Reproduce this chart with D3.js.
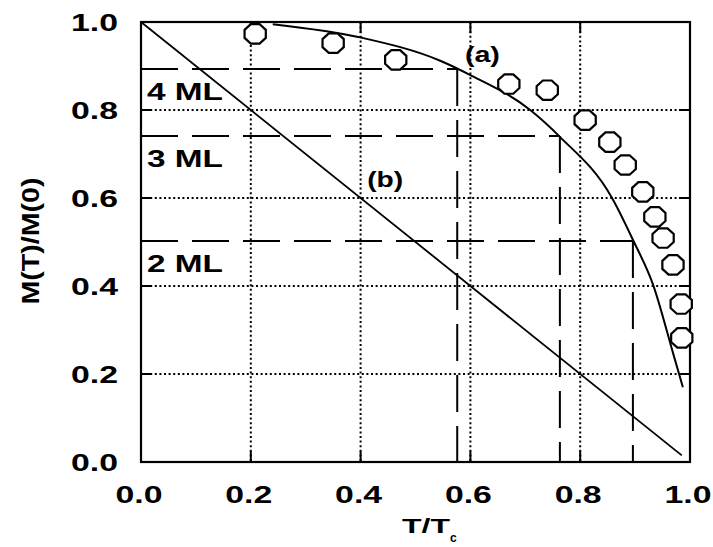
<!DOCTYPE html>
<html>
<head>
<meta charset="utf-8">
<script src="https://cdn.jsdelivr.net/npm/d3@7"></script>
<style>
  body { margin: 0; background: #fff; }
  text { font-family: "Liberation Sans", Arial, sans-serif; font-weight: bold; fill: #000; }
</style>
</head>
<body>
<svg id="chart" width="713" height="547"></svg>
<script>
// tick values
var xTicks = [0.0, 0.2, 0.4, 0.6, 0.8, 1.0];
var yTicks = [0.0, 0.2, 0.4, 0.6, 0.8, 1.0];

// measured points (octagons)
var pointsT = [0.208, 0.350, 0.464, 0.670, 0.740, 0.809, 0.854, 0.882, 0.914, 0.936, 0.951, 0.969, 0.984, 0.985];
var pointsM = [0.973, 0.952, 0.914, 0.859, 0.845, 0.777, 0.727, 0.675, 0.614, 0.557, 0.509, 0.448, 0.359, 0.282];

// curve (a)
var curveAT = [0.24, 0.403, 0.545, 0.599, 0.709, 0.763, 0.858, 0.896, 0.933, 0.969, 0.987];
var curveAM = [0.995, 0.964, 0.912, 0.880, 0.800, 0.739, 0.600, 0.505, 0.402, 0.248, 0.170];

// line (b)
var lineBT = [0.0, 0.985];
var lineBM = [1.0, 0.015];

// monolayer thresholds
var mlLabels = ["4 ML", "3 ML", "2 ML"];
var mlT = [0.576, 0.763, 0.896];
var mlM = [0.893, 0.741, 0.502];

var svg = d3.select("#chart"),
  margin = { top: 22, right: 23, bottom: 85, left: 141 },
  width = +svg.attr("width") - margin.left - margin.right,
  height = +svg.attr("height") - margin.top - margin.bottom,
  g = svg.append("g").attr("transform", "translate(" + margin.left + "," + margin.top + ")");

var x = d3.scaleLinear().domain([0, 1]).range([0, width]);
var y = d3.scaleLinear().domain([0, 1]).range([height, 0]);

var inner = [0.2, 0.4, 0.6, 0.8];

// dotted grid
g.selectAll(".vgrid").data(inner).enter().append("line")
  .attr("x1", d => x(d)).attr("x2", d => x(d))
  .attr("y1", 0).attr("y2", height)
  .attr("stroke", "#000").attr("stroke-width", 2)
  .attr("stroke-dasharray", "2,2.6");
g.selectAll(".hgrid").data(inner).enter().append("line")
  .attr("x1", 0).attr("x2", width)
  .attr("y1", d => y(d)).attr("y2", d => y(d))
  .attr("stroke", "#000").attr("stroke-width", 2)
  .attr("stroke-dasharray", "2,2.6");

// inward ticks on all four sides
var tl = 11;
inner.forEach(function(d) {
  [[x(d), height, x(d), height - tl], [x(d), 0, x(d), tl],
   [0, y(d), tl, y(d)], [width, y(d), width - tl, y(d)]].forEach(function(s) {
    g.append("line")
      .attr("x1", s[0]).attr("y1", s[1]).attr("x2", s[2]).attr("y2", s[3])
      .attr("stroke", "#000").attr("stroke-width", 2);
  });
});

// dashed ML guides
mlT.forEach(function(t, i) {
  g.append("path")
    .attr("fill", "none")
    .attr("stroke", "#000")
    .attr("stroke-width", 2)
    .attr("stroke-dasharray", "37,14")
    .attr("d", "M0," + y(mlM[i]) + "H" + x(t));
  g.append("path")
    .attr("fill", "none")
    .attr("stroke", "#000")
    .attr("stroke-width", 2)
    .attr("stroke-dasharray", "37,14")
    .attr("d", "M" + x(t) + "," + y(mlM[i]) + "V" + height);
});

// frame
g.append("rect")
  .attr("x", 0).attr("y", 0)
  .attr("width", width).attr("height", height)
  .attr("fill", "none").attr("stroke", "#000").attr("stroke-width", 2.2);

// line (b)
var line = d3.line()
  .x(d => x(d[0]))
  .y(d => y(d[1]));

g.append("path")
  .attr("fill", "none")
  .attr("stroke", "#000")
  .attr("stroke-width", 1.8)
  .attr("d", line(lineBT.map((t, i) => [t, lineBM[i]])));

// curve (a)
g.append("path")
  .attr("fill", "none")
  .attr("stroke", "#000")
  .attr("stroke-width", 2)
  .attr("d", line.curve(d3.curveMonotoneX)(curveAT.map((t, i) => [t, curveAM[i]])));

// octagon markers
var octagon = function(rx, ry) {
  var pts = d3.range(8).map(function(k) {
    var a = Math.PI / 8 + k * Math.PI / 4;
    return [rx * Math.cos(a), ry * Math.sin(a)];
  });
  return "M" + pts.map(p => p[0].toFixed(2) + "," + p[1].toFixed(2)).join("L") + "Z";
};

g.selectAll(".pt").data(pointsT).enter().append("path")
  .attr("transform", (d, i) => "translate(" + x(d) + "," + y(pointsM[i]) + ")")
  .attr("d", octagon(11.5, 10.5))
  .attr("fill", "#fff")
  .attr("stroke", "#000")
  .attr("stroke-width", 2.2);

// tick labels
g.selectAll(".xlab").data(xTicks).enter().append("text")
  .attr("x", d => x(d) - 2)
  .attr("y", height + 41)
  .attr("text-anchor", "middle")
  .attr("font-size", 24)
  .attr("textLength", 47)
  .attr("lengthAdjust", "spacingAndGlyphs")
  .text(d => d.toFixed(1));

g.selectAll(".ylab").data(yTicks).enter().append("text")
  .attr("x", -23)
  .attr("y", d => y(d) + 9)
  .attr("text-anchor", "end")
  .attr("font-size", 23)
  .attr("textLength", 47)
  .attr("lengthAdjust", "spacingAndGlyphs")
  .text(d => d.toFixed(1));

// ML labels
mlLabels.forEach(function(lab, i) {
  g.append("text")
    .attr("x", 6)
    .attr("y", y(mlM[i]) + 31)
    .attr("font-size", 23)
    .attr("textLength", 76)
    .attr("lengthAdjust", "spacingAndGlyphs")
    .text(lab);
});

// curve labels
g.append("text")
  .attr("x", x(0.59)).attr("y", y(0.91))
  .attr("font-size", 22)
  .attr("textLength", 35)
  .attr("lengthAdjust", "spacingAndGlyphs")
  .text("(a)");
g.append("text")
  .attr("x", x(0.412)).attr("y", y(0.625))
  .attr("font-size", 22)
  .attr("textLength", 36)
  .attr("lengthAdjust", "spacingAndGlyphs")
  .text("(b)");

// axis titles
var xt = svg.append("text")
  .attr("x", 402)
  .attr("y", 533)
  .attr("font-size", 21);
xt.append("tspan").attr("textLength", 48).attr("lengthAdjust", "spacingAndGlyphs").text("T/T");
xt.append("tspan").attr("dy", 9).attr("font-size", 12).text("c");

svg.append("text")
  .attr("transform", "translate(39,241) rotate(-90)")
  .attr("text-anchor", "middle")
  .attr("font-size", 23)
  .attr("textLength", 127)
  .attr("lengthAdjust", "spacingAndGlyphs")
  .text("M(T)/M(0)");
</script>
</body>
</html>
